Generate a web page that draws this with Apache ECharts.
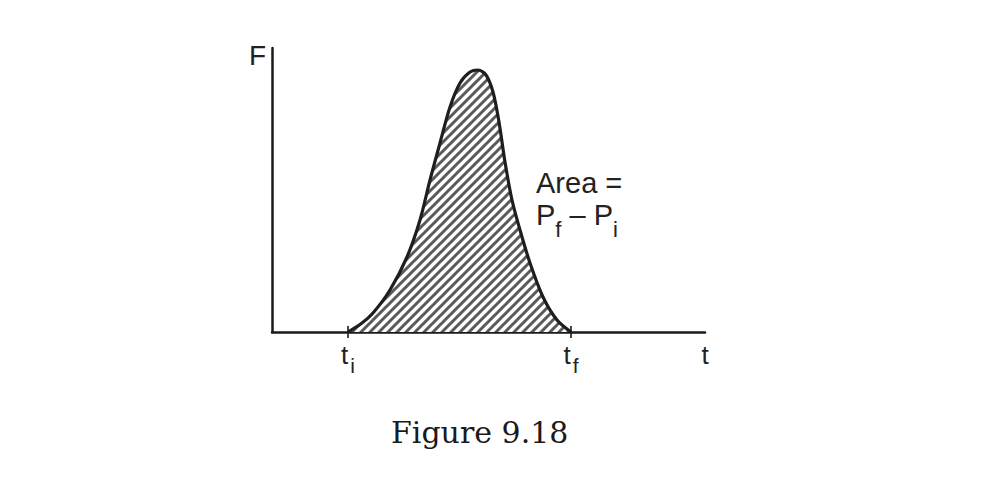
<!DOCTYPE html>
<html>
<head>
<meta charset="utf-8">
<script src="https://cdn.jsdelivr.net/npm/echarts@6/dist/echarts.min.js"></script>
<style>
html,body{margin:0;padding:0;background:#fff;}
#chart{width:991px;height:488px;}
</style>
</head>
<body>
<div id="chart"></div>
<script>
// Curve samples: time (arbitrary units) and force (arbitrary units)
var curveT = [76, 90, 101, 118, 135, 148, 158, 168, 178, 188, 198, 206, 214, 221, 227, 233, 240, 248, 258, 271, 285, 299];
var curveF = [0, 9, 19, 42, 75, 112, 152, 189, 225, 249, 260, 262, 257, 240, 210, 170, 132, 102, 69, 35, 12, 0];
var tickValues = [76, 299, 433];
var tickLabels = ['{t|t}{s|i}', '{t|t}{s|f}', '{t|t}'];
var axisMaxT = 433;
var axisMaxF = 284;

var curveData = curveT.map(function (t, i) { return [t, curveF[i]]; });
var tickMarks = [[tickValues[0], 0], [tickValues[1], 0]];

// hatch pattern
var tile = 9;
var cv = document.createElement('canvas');
cv.width = tile; cv.height = tile;
var ctx = cv.getContext('2d');
ctx.fillStyle = '#ffffff';
ctx.fillRect(0, 0, tile, tile);
ctx.strokeStyle = '#5a5a5a';
ctx.lineWidth = 3;
ctx.beginPath();
ctx.moveTo(-2, tile + 2); ctx.lineTo(tile + 2, -2);
ctx.moveTo(-2, 2); ctx.lineTo(2, -2);
ctx.moveTo(tile - 2, tile + 2); ctx.lineTo(tile + 2, tile - 2);
ctx.stroke();
var hatchUrl = cv.toDataURL();

var chart = echarts.init(document.getElementById('chart'), null, { renderer: 'svg' });
var sans = 'Liberation Sans, Arial, Helvetica, sans-serif';
chart.setOption({
  animation: false,
  backgroundColor: '#ffffff',
  grid: { left: 272, top: 48, width: 433, height: 284, containLabel: false },
  xAxis: {
    type: 'value', min: 0, max: axisMaxT,
    axisLine: { show: true, onZero: false, lineStyle: { color: '#1a1a1a', width: 2.5 } },
    axisTick: { show: false },
    splitLine: { show: false },
    axisLabel: {
      show: true,
      customValues: tickValues,
      margin: 10,
      formatter: function (v) {
        var i = tickValues.indexOf(v);
        return i >= 0 ? tickLabels[i] : '';
      },
      rich: {
        t: { fontFamily: sans, fontSize: 26, color: '#222', padding: [0, 0, 8, 0], verticalAlign: 'bottom' },
        s: { fontFamily: sans, fontSize: 21, color: '#222', padding: [0, 0, 0, 2], verticalAlign: 'bottom' }
      }
    }
  },
  yAxis: {
    type: 'value', min: 0, max: axisMaxF,
    name: 'F', nameLocation: 'end', nameGap: 7,
    nameTextStyle: { fontFamily: sans, fontSize: 28, color: '#222', align: 'right', verticalAlign: 'top', padding: [0, 6, 0, 0] },
    axisLine: { show: true, lineStyle: { color: '#1a1a1a', width: 2.5 } },
    axisTick: { show: false },
    axisLabel: { show: false },
    splitLine: { show: false }
  },
  series: [
    {
      type: 'line',
      data: curveData,
      smooth: 0.3,
      showSymbol: false,
      lineStyle: { color: '#1e1e1e', width: 3.2 },
      areaStyle: { color: { image: hatchUrl, repeat: 'repeat' }, opacity: 1 },
      z: 3
    },
    {
      type: 'scatter',
      data: tickMarks,
      symbol: 'rect',
      symbolSize: [2, 12],
      itemStyle: { color: '#1a1a1a' },
      z: 4
    }
  ],
  graphic: [
    {
      type: 'text', left: 536, top: 168,
      style: { text: 'Area =', font: '29px ' + sans, fill: '#222' }
    },
    {
      type: 'text', left: 536, top: 200,
      style: {
        text: '{p|P}{s|f}{p| – P}{s|i}',
        rich: {
          p: { fontFamily: sans, fontSize: 29, fill: '#222', padding: [0, 0, 11, 0], verticalAlign: 'bottom' },
          s: { fontFamily: sans, fontSize: 22, fill: '#222', verticalAlign: 'bottom' }
        }
      }
    },
    {
      type: 'text', left: 391, top: 417,
      style: { text: 'Figure 9.18', font: '30px DejaVu Serif, serif', fill: '#1a1a1a' }
    }
  ]
});
</script>
</body>
</html>
